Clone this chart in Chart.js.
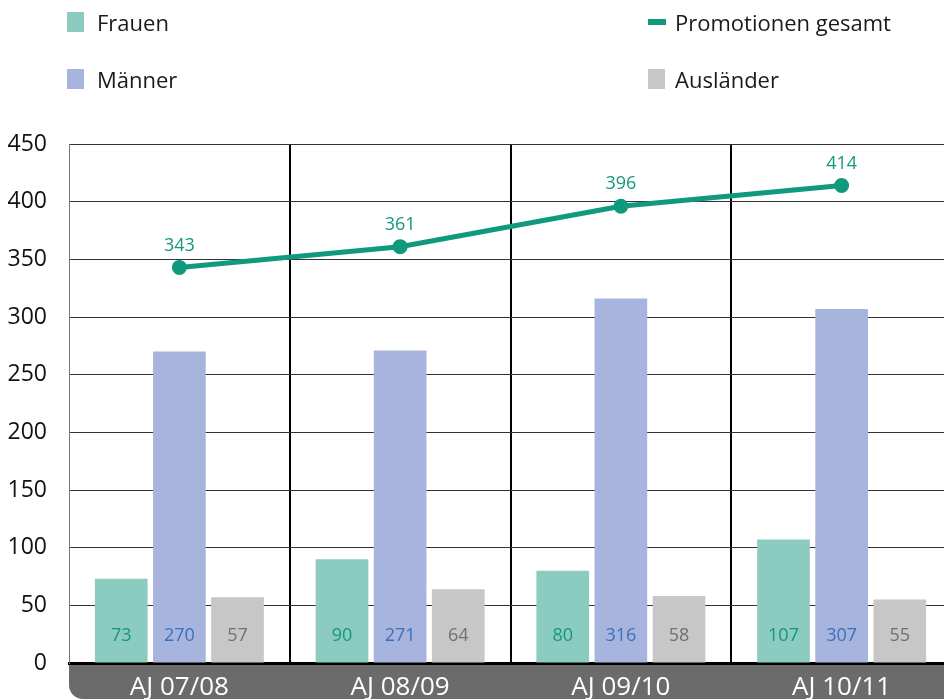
<!DOCTYPE html>
<html>
<head>
<meta charset="utf-8">
<script src="https://cdn.jsdelivr.net/npm/chart.js@4"></script>
<style>
  html, body { margin: 0; padding: 0; background: #fff; overflow: hidden; }
  #wrap { position: relative; width: 944px; height: 699px; overflow: hidden; }
  #chart { position: absolute; left: 0; top: 0; }
  .leg { position: absolute; font-family: "Open Sans", sans-serif; font-size: 22px; color: #1a1a1a; line-height: 24px; }
  .sw { position: absolute; }
</style>
</head>
<body>
<div id="wrap">
  <canvas id="chart" width="962" height="699"></canvas>
  <div class="sw" style="left:67px;top:12px;width:17px;height:20px;background:#8ccbbf"></div>
  <div class="leg" style="left:97px;top:10px">Frauen</div>
  <div class="sw" style="left:67px;top:69px;width:17px;height:20px;background:#a7b5de"></div>
  <div class="leg" style="left:97px;top:67px">Männer</div>
  <div class="sw" style="left:648px;top:19px;width:18px;height:6px;background:#0f9a7d"></div>
  <div class="leg" style="left:675px;top:10px">Promotionen gesamt</div>
  <div class="sw" style="left:648px;top:69px;width:17px;height:20px;background:#c6c7c6"></div>
  <div class="leg" style="left:675px;top:67px">Ausländer</div>
</div>
<script>
const categories = ['AJ 07/08', 'AJ 08/09', 'AJ 09/10', 'AJ 10/11'];
const frauen = [73, 90, 80, 107];
const maenner = [270, 271, 316, 307];
const auslaender = [57, 64, 58, 55];
const gesamt = [343, 361, 396, 414];
const yTicks = [0, 50, 100, 150, 200, 250, 300, 350, 400, 450];

const labelColors = ['#15977d', '#3b70bd', '#707070'];

// grey band under the x axis with rounded lower-left corner
const bandPlugin = {
  id: 'band',
  beforeDraw(chart) {
    const { ctx, chartArea } = chart;
    ctx.save();
    ctx.fillStyle = '#6b6b6b';
    ctx.beginPath();
    ctx.roundRect(chartArea.left, chartArea.bottom, chart.width - chartArea.left, chart.height - chartArea.bottom, [0, 0, 0, 14]);
    ctx.fill();
    ctx.restore();
  }
};

// value labels: inside bars near the bottom, above the line points
const valuePlugin = {
  id: 'values',
  afterDatasetsDraw(chart) {
    const { ctx } = chart;
    const yScale = chart.scales.y;
    ctx.save();
    ctx.font = '18px "Open Sans", sans-serif';
    ctx.textAlign = 'center';
    ctx.textBaseline = 'middle';
    chart.data.datasets.forEach((ds, di) => {
      const meta = chart.getDatasetMeta(di);
      meta.data.forEach((el, i) => {
        if (ds.type === 'line') {
          ctx.fillStyle = '#15977d';
          ctx.fillText(ds.data[i], el.x, el.y - 22);
        } else {
          ctx.fillStyle = labelColors[di - 1];
          ctx.fillText(ds.data[i], el.x, yScale.getPixelForValue(23.5));
        }
      });
    });
    ctx.restore();
  }
};

const ctx = document.getElementById('chart').getContext('2d');
new Chart(ctx, {
  type: 'bar',
  data: {
    labels: categories,
    datasets: [
      {
        type: 'line',
        label: 'Promotionen gesamt',
        data: gesamt,
        borderColor: '#0f9a7d',
        backgroundColor: '#0f9a7d',
        borderWidth: 5,
        pointRadius: 5,
        pointHoverRadius: 5,
        tension: 0,
        order: 0
      },
      { label: 'Frauen', data: frauen, backgroundColor: '#8ccbbf', order: 1 },
      { label: 'Männer', data: maenner, backgroundColor: '#a7b5de', order: 1 },
      { label: 'Ausländer', data: auslaender, backgroundColor: '#c6c7c6', order: 1 }
    ]
  },
  options: {
    responsive: false,
    animation: false,
    events: [],
    layout: { padding: { top: 144, right: 5, left: 0, bottom: 0 } },
    datasets: {
      bar: { categoryPercentage: 0.79, barPercentage: 0.906 }
    },
    scales: {
      x: {
        afterFit: s => { s.height = 36; },
        border: { color: '#000', width: 3 },
        grid: {
          offset: true,
          drawTicks: false,
          color: '#000',
          lineWidth: c => (c.index === 0 ? 0 : 2)
        },
        ticks: {
          color: '#fff',
          padding: 9,
          font: { family: '"Open Sans", sans-serif', size: 26 }
        }
      },
      y: {
        min: 0,
        max: 450,
        afterFit: s => { s.width = 69; },
        afterBuildTicks: s => { s.ticks = yTicks.map(v => ({ value: v })); },
        border: { color: '#777', width: 1 },
        grid: { drawTicks: false, color: '#333', lineWidth: 1 },
        ticks: {
          color: '#111',
          padding: 22,
          font: { family: '"Open Sans", sans-serif', size: 23 }
        }
      }
    },
    plugins: {
      legend: { display: false },
      tooltip: { enabled: false }
    }
  },
  plugins: [bandPlugin, valuePlugin]
});
</script>
</body>
</html>
